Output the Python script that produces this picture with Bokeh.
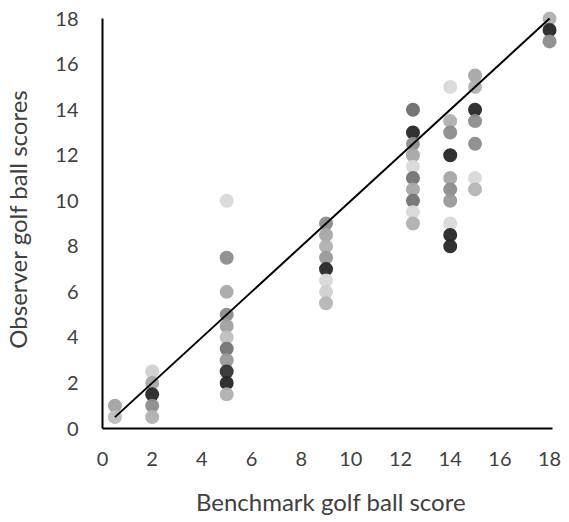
from bokeh.plotting import figure
from bokeh.models import ColumnDataSource, Range1d, FixedTicker
from bokeh.embed import file_html
from bokeh.resources import INLINE

# Benchmark score (x) and observer scores (y), one entry per point
bench = [0.5, 0.5,
         2, 2, 2, 2, 2,
         5, 5, 5, 5, 5, 5, 5, 5, 5, 5, 5,
         9, 9, 9, 9, 9, 9, 9, 9,
         12.5, 12.5, 12.5, 12.5, 12.5, 12.5, 12.5, 12.5, 12.5, 12.5,
         14, 14, 14, 14, 14, 14, 14, 14, 14, 14,
         15, 15, 15, 15, 15, 15, 15,
         18, 18, 18]
observer = [1, 0.5,
            2.5, 2, 1.5, 1, 0.5,
            10, 7.5, 6, 5, 4.5, 4, 3.5, 3, 2.5, 2, 1.5,
            9, 8.5, 8, 7.5, 7, 6.5, 6, 5.5,
            14, 13, 12.5, 12, 11.5, 11, 10.5, 10, 9.5, 9,
            15, 13.5, 13, 12, 11, 10.5, 10, 9, 8.5, 8,
            15.5, 15, 14, 13.5, 12.5, 11, 10.5,
            18, 17.5, 17]
shade = ["#a3a3a3", "#bdbdbd",
         "#d0d0d0", "#a6a6a6", "#262626", "#8c8c8c", "#b0b0b0",
         "#d9d9d9", "#8c8c8c", "#aaaaaa", "#8c8c8c", "#a0a0a0", "#bfbfbf", "#737373", "#999999", "#333333", "#262626", "#b0b0b0",
         "#8c8c8c", "#a6a6a6", "#b0b0b0", "#999999", "#262626", "#d9d9d9", "#d0d0d0", "#b5b5b5",
         "#6e6e6e", "#262626", "#8c8c8c", "#a6a6a6", "#d9d9d9", "#737373", "#a6a6a6", "#737373", "#d9d9d9", "#b0b0b0",
         "#d9d9d9", "#b0b0b0", "#8c8c8c", "#262626", "#a6a6a6", "#8c8c8c", "#999999", "#d9d9d9", "#262626", "#262626",
         "#a6a6a6", "#b0b0b0", "#262626", "#8c8c8c", "#8c8c8c", "#d9d9d9", "#b5b5b5",
         "#b0b0b0", "#262626", "#8c8c8c"]

# 1:1 reference line
line_x = [0.5, 18]
line_y = [0.5, 18]

ticks = [0, 2, 4, 6, 8, 10, 12, 14, 16, 18]

FONT = "Lato"
TXT = "#404040"

p = figure(width=569, height=522, output_backend="svg", toolbar_location=None,
           x_range=Range1d(0, 18.4), y_range=Range1d(0, 18.4),
           min_border_left=98, min_border_right=10, min_border_top=9, min_border_bottom=94)
p.outline_line_color = None
p.grid.visible = False
p.background_fill_color = "white"
p.border_fill_color = "white"

src = ColumnDataSource(dict(x=bench, y=observer, c=shade))
p.scatter("x", "y", source=src, size=14, fill_color="c", line_color=None, fill_alpha=0.95)
p.line(line_x, line_y, line_color="black", line_width=2)

for ax in (p.xaxis[0], p.yaxis[0]):
    ax.ticker = FixedTicker(ticks=ticks)
    ax.major_tick_line_color = None
    ax.minor_tick_line_color = None
    ax.axis_line_color = "black"
    ax.axis_line_width = 2
    ax.major_label_text_font = FONT
    ax.major_label_text_font_size = "20px"
    ax.major_label_text_color = TXT
    ax.axis_label_text_font = FONT
    ax.axis_label_text_font_size = "24px"
    ax.axis_label_text_color = TXT
    ax.axis_label_text_font_style = "normal"

p.xaxis.bounds = (0, 18.12)
p.yaxis.bounds = (0, 18)
p.xaxis.axis_label = "Benchmark golf ball score"
p.yaxis.axis_label = "Observer golf ball scores"
p.xaxis.major_label_standoff = 17
p.xaxis.axis_label_standoff = 18
p.yaxis.major_label_standoff = 18
p.yaxis.axis_label_standoff = 20

open("out.html", "w").write(file_html(p, INLINE))
